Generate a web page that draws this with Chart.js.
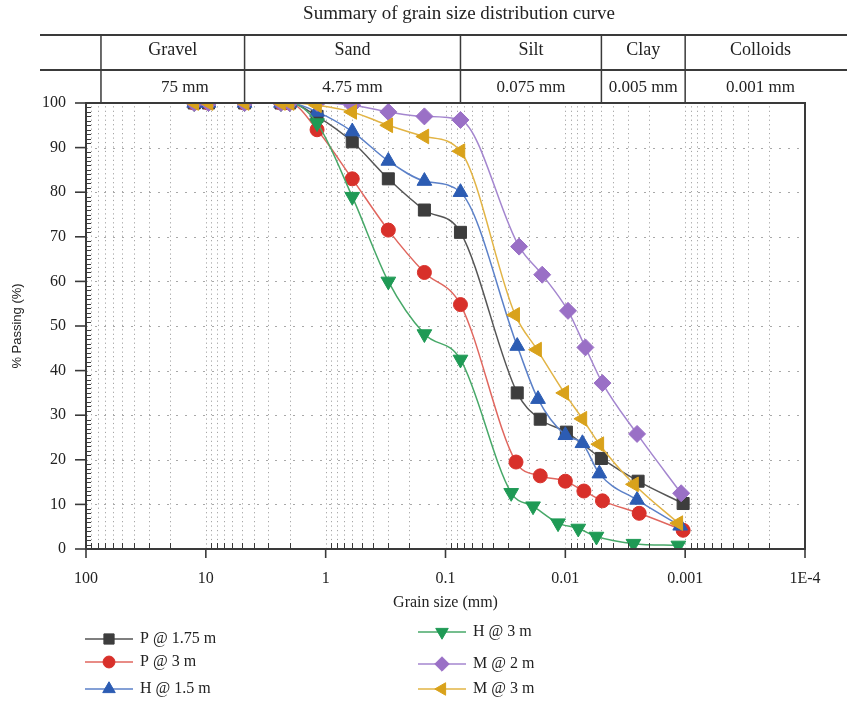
<!DOCTYPE html>
<html>
<head>
<meta charset="utf-8">
<script src="https://cdn.jsdelivr.net/npm/chart.js@4.4.1/dist/chart.umd.min.js"></script>
<style>
  html, body { margin: 0; padding: 0; background: #fff; }
  #wrap { position: relative; width: 847px; height: 702px; }
</style>
</head>
<body>
<div id="wrap"><canvas id="c" width="847" height="702"></canvas></div>
<script>
// grain size distribution

const SERIF = '"Liberation Serif", "DejaVu Serif", serif';
const SANS = '"Liberation Sans", Arial, sans-serif';

const seriesNames = ['P @ 1.75 m', 'P @ 3 m', 'H @ 1.5 m', 'H @ 3 m', 'M @ 2 m', 'M @ 3 m'];

// sieve analysis (mm)
const sieveSizes = [12.5, 9.5, 4.75, 2.36, 2.0, 1.18, 0.6, 0.3, 0.15, 0.075];
const p175Sieve = [100, 100, 100, 100, 100, 97, 91.3, 83, 76, 71];
const p3Sieve   = [100, 100, 100, 100, 100, 94, 83, 71.5, 62, 54.8];
const h15Sieve  = [100, 100, 100, 100, 100, 98, 93.6, 87, 82.5, 80];
const h3Sieve   = [100, 100, 100, 100, 100, 95.5, 79, 60, 48.2, 42.5];
const m2Sieve   = [100, 100, 100, 100, 100, 100, 99.5, 98, 97, 96.2];
const m3Sieve   = [100, 100, 100, 100, 100, 99.5, 98, 95, 92.5, 89.2];

// hydrometer analysis (mm / % passing)
const p175HydroSize = [0.0252, 0.0162, 0.0098, 0.0050, 0.00247, 0.00104];
const p175HydroPass = [35, 29.1, 26.2, 20.3, 15.2, 10.2];
const p3HydroSize = [0.0258, 0.0162, 0.0100, 0.0070, 0.0049, 0.00242, 0.00104];
const p3HydroPass = [19.5, 16.4, 15.2, 13, 10.8, 8, 4.2];
const h15HydroSize = [0.0252, 0.0169, 0.0100, 0.0072, 0.0052, 0.00252, 0.00110];
const h15HydroPass = [45.5, 33.6, 25.5, 23.7, 16.9, 11, 5.2];
const h3HydroSize = [0.0283, 0.0186, 0.0115, 0.0078, 0.0055, 0.0027, 0.00114];
const h3HydroPass = [12.6, 9.6, 5.8, 4.6, 2.8, 1.2, 0.8];
const m2HydroSize = [0.0243, 0.0156, 0.0095, 0.0068, 0.0049, 0.00252, 0.00108];
const m2HydroPass = [67.8, 61.5, 53.4, 45.2, 37.2, 25.8, 12.5];
const m3HydroSize = [0.0262, 0.0172, 0.0102, 0.0072, 0.0052, 0.00267, 0.00114];
const m3HydroPass = [52.5, 44.7, 35, 29.2, 23.5, 14.5, 5.8];

// soil classes along the top of the plot
const classNames = ['Gravel', 'Sand', 'Silt', 'Clay', 'Colloids'];
const classLimits = [75, 4.75, 0.075, 0.005, 0.001];
const classLimitLabels = ['75 mm', '4.75 mm', '0.075 mm', '0.005 mm', '0.001 mm'];

const styles = [
  { line: '#555555', fill: '#3d3d3d', pointStyle: 'rect', radius: 8.5, rotation: 0 },
  { line: '#e0665e', fill: '#d8302a', pointStyle: 'circle', radius: 7, rotation: 0 },
  { line: '#5b80c8', fill: '#2c5cb3', pointStyle: 'triangle', radius: 8.5, rotation: 0 },
  { line: '#47a868', fill: '#1f9a55', pointStyle: 'triangle', radius: 8.5, rotation: 180 },
  { line: '#a486cf', fill: '#9a70c6', pointStyle: 'rectRot', radius: 8.5, rotation: 0 },
  { line: '#e2b445', fill: '#d9a21b', pointStyle: 'triangle', radius: 8.5, rotation: 270 },
];

function toPoints(sizes, pass) {
  return sizes.map((s, i) => ({ x: s, y: pass[i] }));
}

const seriesData = [
  toPoints(sieveSizes.concat(p175HydroSize), p175Sieve.concat(p175HydroPass)),
  toPoints(sieveSizes.concat(p3HydroSize), p3Sieve.concat(p3HydroPass)),
  toPoints(sieveSizes.concat(h15HydroSize), h15Sieve.concat(h15HydroPass)),
  toPoints(sieveSizes.concat(h3HydroSize), h3Sieve.concat(h3HydroPass)),
  toPoints(sieveSizes.concat(m2HydroSize), m2Sieve.concat(m2HydroPass)),
  toPoints(sieveSizes.concat(m3HydroSize), m3Sieve.concat(m3HydroPass)),
];

function isDecade(v) {
  const l = Math.log10(v);
  return Math.abs(l - Math.round(l)) < 1e-6;
}

function decadeLabel(v) {
  const e = Math.round(Math.log10(v));
  if (e < -3) return '1E' + e;
  return String(Number(Math.pow(10, e).toFixed(Math.max(0, -e))));
}

function minorValues() {
  const out = [];
  for (let e = -4; e <= 2; e++) {
    for (let k = 1; k <= 9; k++) {
      const v = k * Math.pow(10, e);
      if (v > 100 + 1e-9) break;
      out.push(v);
    }
  }
  return out;
}

const gridPlugin = {
  id: 'grid',
  beforeDatasetsDraw(chart) {
    const { ctx, chartArea: a, scales: { x, y } } = chart;
    ctx.save();
    ctx.lineWidth = 1;
    // vertical dotted lines at every log tick
    ctx.strokeStyle = '#a4a4a4';
    ctx.setLineDash([1.2, y.getPixelForValue(0) - y.getPixelForValue(1) - 1.2]);
    minorValues().forEach(v => {
      const px = Math.round(x.getPixelForValue(v)) + 0.5;
      if (px <= a.left + 1 || px >= a.right - 1) return;
      ctx.beginPath();
      ctx.moveTo(px, a.bottom);
      ctx.lineTo(px, a.top);
      ctx.stroke();
    });
    // horizontal dashed lines every 10 %
    ctx.strokeStyle = '#a8a8a8';
    ctx.setLineDash([2, 7]);
    for (let v = 10; v < 100; v += 10) {
      const py = Math.round(y.getPixelForValue(v)) + 0.5;
      ctx.beginPath();
      ctx.moveTo(a.left, py);
      ctx.lineTo(a.right, py);
      ctx.stroke();
    }
    ctx.restore();
  },
  afterDraw(chart) {
    const { ctx, chartArea: a, scales: { x, y } } = chart;
    ctx.save();
    ctx.setLineDash([]);
    ctx.strokeStyle = '#3a3a3a';

    // minor ticks (inward)
    ctx.lineWidth = 1;
    minorValues().forEach(v => {
      if (isDecade(v)) return;
      const px = Math.round(x.getPixelForValue(v)) + 0.5;
      ctx.beginPath();
      ctx.moveTo(px, a.bottom);
      ctx.lineTo(px, a.bottom - 6);
      ctx.stroke();
    });
    for (let v = 1; v < 100; v++) {
      if (v % 10 === 0) continue;
      const py = Math.round(y.getPixelForValue(v)) + 0.5;
      ctx.beginPath();
      ctx.moveTo(a.left, py);
      ctx.lineTo(a.left + 5, py);
      ctx.stroke();
    }

    // major ticks (outward)
    ctx.lineWidth = 1.6;
    for (let e = -4; e <= 2; e++) {
      const px = x.getPixelForValue(Math.pow(10, e));
      ctx.beginPath();
      ctx.moveTo(px, a.bottom);
      ctx.lineTo(px, a.bottom + 9);
      ctx.stroke();
    }
    for (let v = 0; v <= 100; v += 10) {
      const py = y.getPixelForValue(v);
      ctx.beginPath();
      ctx.moveTo(a.left, py);
      ctx.lineTo(a.left - 11, py);
      ctx.stroke();
    }

    // frame
    ctx.lineWidth = 2;
    ctx.strokeRect(a.left, a.top, a.right - a.left, a.bottom - a.top);

    // class table above the plot
    const tTop = 35, tMid = 70, tBot = a.top;
    ctx.lineWidth = 1.8;
    ctx.beginPath();
    ctx.moveTo(40, tTop); ctx.lineTo(847, tTop);
    ctx.moveTo(40, tMid); ctx.lineTo(847, tMid);
    ctx.stroke();
    const edges = classLimits.map(v => x.getPixelForValue(v));
    ctx.lineWidth = 1.5;
    edges.forEach(px => {
      ctx.beginPath();
      ctx.moveTo(px, tTop);
      ctx.lineTo(px, tBot);
      ctx.stroke();
    });
    ctx.fillStyle = '#222';
    ctx.textAlign = 'center';
    ctx.textBaseline = 'middle';
    ctx.font = '18px ' + SERIF;
    const rightEdge = 836;
    classNames.forEach((name, i) => {
      const l = edges[i];
      const r = i + 1 < edges.length ? edges[i + 1] : rightEdge;
      ctx.fillText(name, (l + r) / 2, 50);
    });
    ctx.font = '17px ' + SERIF;
    classNames.forEach((name, i) => {
      const l = edges[i];
      const r = i + 1 < edges.length ? edges[i + 1] : rightEdge;
      ctx.fillText(classLimitLabels[i], (l + r) / 2 + (i === 0 ? 12 : 0), 88);
    });
    ctx.font = '19px ' + SERIF;
    ctx.fillText('Summary of grain size distribution curve', 459, 14);

    // legend, two columns
    const legendPos = [
      [85, 639], [85, 662], [85, 689],
      [418, 632], [418, 664], [418, 689],
    ];
    ctx.textAlign = 'left';
    ctx.font = '16px ' + SERIF;
    seriesNames.forEach((name, i) => {
      const [lx, ly] = legendPos[i];
      const st = styles[i];
      ctx.strokeStyle = st.line;
      ctx.lineWidth = 1.6;
      ctx.beginPath();
      ctx.moveTo(lx, ly);
      ctx.lineTo(lx + 48, ly);
      ctx.stroke();
      ctx.fillStyle = st.fill;
      ctx.strokeStyle = st.fill;
      ctx.lineWidth = 1;
      Chart.helpers.drawPoint(ctx, {
        pointStyle: st.pointStyle, radius: st.radius * 0.85, rotation: st.rotation, borderWidth: 1,
      }, lx + 24, ly);
      ctx.fillStyle = '#222';
      ctx.fillText(name, lx + 55, ly);
    });
    ctx.restore();
  },
};

new Chart(document.getElementById('c'), {
  type: 'scatter',
  data: {
    datasets: seriesNames.map((name, i) => ({
      label: name,
      data: seriesData[i],
      showLine: true,
      cubicInterpolationMode: 'monotone',
      borderColor: styles[i].line,
      borderWidth: 1.5,
      backgroundColor: styles[i].fill,
      pointBackgroundColor: styles[i].fill,
      pointBorderColor: styles[i].fill,
      pointBorderWidth: 1,
      pointStyle: styles[i].pointStyle,
      pointRotation: styles[i].rotation,
      pointRadius: styles[i].radius,
      order: -i,
    })),
  },
  options: {
    responsive: false,
    animation: false,
    devicePixelRatio: 1,
    layout: { padding: { top: 103, right: 42, left: 0, bottom: 0 } },
    plugins: { legend: { display: false }, tooltip: { enabled: false } },
    scales: {
      x: {
        type: 'logarithmic', reverse: true, min: 0.0001, max: 100,
        grid: { display: false }, border: { display: false },
        ticks: {
          autoSkip: false, maxRotation: 0, minRotation: 0, padding: 12,
          color: '#222', font: { family: SERIF, size: 16 },
          callback: (v) => isDecade(v) ? decadeLabel(v) : '',
        },
        title: {
          display: true, text: 'Grain size (mm)', color: '#222',
          font: { family: SERIF, size: 16 }, padding: { top: 0, bottom: 90 },
        },
        afterFit: (s) => { s.height = 153; },
      },
      y: {
        min: 0, max: 100,
        grid: { display: false }, border: { display: false },
        ticks: { stepSize: 10, padding: 12, color: '#222', font: { family: SERIF, size: 16 } },
        title: {
          display: true, text: '% Passing (%)', color: '#222',
          font: { family: SANS, size: 13 }, padding: { top: 10, bottom: 0 },
        },
        afterFit: (s) => { s.width = 86; },
      },
    },
  },
  plugins: [gridPlugin],
});
</script>
</body>
</html>
